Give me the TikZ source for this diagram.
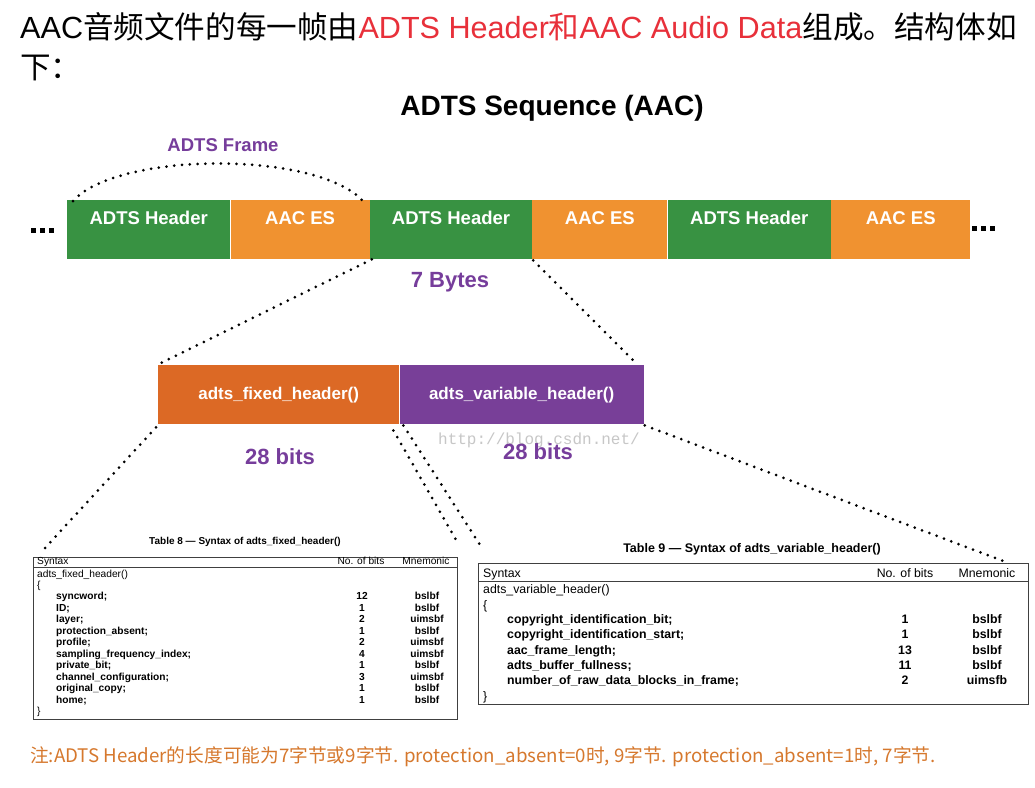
\documentclass[tikz,border=0pt]{standalone}
\usepackage{fontspec}
\setmainfont{Liberation Sans}
\newfontfamily\cjk{Noto Sans CJK SC}
\newfontfamily\wmono{Liberation Mono}
\usetikzlibrary{calc}
\definecolor{segG}{HTML}{389242}
\definecolor{segO}{HTML}{F09230}
\definecolor{fixc}{HTML}{DC6925}
\definecolor{varc}{HTML}{783F98}
\definecolor{purt}{HTML}{763D9B}
\definecolor{redt}{HTML}{E8303A}
\definecolor{notec}{HTML}{D6782D}
\begin{document}
\begin{tikzpicture}[x=1pt,y=-1pt,
  seg/.style={anchor=north west, inner sep=0, minimum height=59pt, text=white,
    font=\bfseries\fontsize{18.5}{18.5}\selectfont, text height=13pt, text depth=24pt},
  hbox/.style={anchor=north west, inner sep=0, minimum height=59pt, text=white,
    font=\bfseries\fontsize{17}{17}\selectfont},
  ptxt/.style={text=purt, inner sep=0, font=\bfseries\fontsize{22}{22}\selectfont},
  dotline/.style={line width=3pt, dash pattern=on 0pt off 7.8pt, line cap=round},
  dotsq/.style={inner sep=0},
  tbox/.style={draw=black!75, line width=0.8pt, anchor=north west, inner sep=0},
  tline/.style={draw=black!75, line width=0.8pt},
  ca/.style={inner sep=0, font=\fontsize{10.2}{10.2}\selectfont, text height=7.4pt, text depth=2pt},
  cab/.style={ca, font=\bfseries\fontsize{10.2}{10.2}\selectfont},
  cb/.style={inner sep=0, font=\fontsize{12.3}{12.3}\selectfont, text height=9pt, text depth=2.6pt},
  cbb/.style={cb, font=\bfseries\fontsize{12.3}{12.3}\selectfont}
]
\useasboundingbox (0,0) rectangle (1035,787);
\fill[white] (0,0) rectangle (1035,787);

% intro text
\node[anchor=base west, inner sep=0, font=\fontsize{30.6}{36}\selectfont] (intro1) at (20,38)
  {AAC{\cjk 音频文件的每一帧由}\textcolor{redt}{ADTS Header{\cjk 和}AAC Audio Data}{\cjk 组成。结构体如}};
\node[anchor=base west, inner sep=0, font=\fontsize{30.6}{36}\selectfont] (intro2) at (20,78) {{\cjk 下：}};

% title
\node[inner sep=0, font=\bfseries\fontsize{28}{28}\selectfont] (title) at (552,108) {ADTS Sequence (AAC)};

% ADTS sequence bar
\node[seg, fill=segG, minimum width=163pt] (s1) at (67,200) {ADTS Header};
\node[seg, fill=segO, minimum width=139pt] (s2) at (s1.north east) {AAC ES};
\node[seg, fill=segG, minimum width=162pt] (s3) at (s2.north east) {ADTS Header};
\node[seg, fill=segO, minimum width=135pt] (s4) at (s3.north east) {AAC ES};
\node[seg, fill=segG, minimum width=163pt] (s5) at (s4.north east) {ADTS Header};
\node[seg, fill=segO, minimum width=139pt] (s6) at (s5.north east) {AAC ES};

\node[dotsq] (dl) at (42.5,230) {\rule{5pt}{5pt}\hspace{4pt}\rule{5pt}{5pt}\hspace{4pt}\rule{5pt}{5pt}};
\node[dotsq] (dr) at (983,228) {\rule{5pt}{5pt}\hspace{4pt}\rule{5pt}{5pt}\hspace{4pt}\rule{5pt}{5pt}};

\node[ptxt, font=\bfseries\fontsize{18.5}{18.5}\selectfont] (frame) at (223,145) {ADTS Frame};
\node[ptxt] (bytes) at (450,282) {7 Bytes};

\draw[dotline] ($(s1.north west)+(6,1)$) .. controls +(45,-50) and +(-45,-50) .. ($(s2.north east)+(-7,1)$);

% header split
\node[hbox, fill=fixc, minimum width=241pt] (fx) at (158,365) {adts\_fixed\_header()};
\node[hbox, fill=varc, minimum width=244pt] (vr) at (fx.north east) {adts\_variable\_header()};

\draw[dotline] ($(s3.south west)+(2,0)$) -- ($(fx.north west)+(3,-2)$);
\draw[dotline] ($(s3.south east)+(1,1)$) -- ($(vr.north east)+(-11,-5)$);

\node[inner sep=0, font=\wmono\fontsize{16}{16}\selectfont, text=black!22] (wm) at (539,440) {http://blog.csdn.net/};

\node[ptxt] (b1) at (280,457) {28 bits};
\node[ptxt] (b2) at (538,452) {28 bits};

% table 8
\node[tbox, minimum width=424pt, minimum height=162pt] (t8) at (33,557) {};
\node[inner sep=0, font=\bfseries\fontsize{10}{10}\selectfont] (t8t) at (245,542) {Table 8 — Syntax of adts\_fixed\_header()};
\draw[tline] ($(t8.north west)+(0,10)$) -- ($(t8.north east)+(0,10)$);
\node[ca, anchor=west] (t8h1) at (37,561.5) {Syntax};
\node[ca] (t8h2) at (361,561.5) {No. of bits};
\node[ca] (t8h3) at (426,561.5) {Mnemonic};
\node[ca, anchor=west] (t8f) at (37,575) {adts\_fixed\_header()};
\node[ca, anchor=west] (t8o) at (37,586) {\{};
\node[ca, anchor=west] (t8c) at (37,712) {\}};
\foreach \nm/\bt/\mn [count=\i] in {syncword;/12/bslbf, ID;/1/bslbf, layer;/2/uimsbf,
  protection\_absent;/1/bslbf, profile;/2/uimsbf, sampling\_frequency\_index;/4/uimsbf,
  private\_bit;/1/bslbf, channel\_configuration;/3/uimsbf, original\_copy;/1/bslbf, home;/1/bslbf}{
  \node[cab, anchor=west] (t8n\i) at (56,{585.5+11.5*\i}) {\nm};
  \node[cab] (t8b\i) at (362,{585.5+11.5*\i}) {\bt};
  \node[cab] (t8m\i) at (427,{585.5+11.5*\i}) {\mn};
}

% table 9
\node[tbox, minimum width=550pt, minimum height=141pt] (t9) at (478,563) {};
\node[inner sep=0, font=\bfseries\fontsize{12.5}{12.5}\selectfont] (t9t) at (752,549) {Table 9 — Syntax of adts\_variable\_header()};
\draw[tline] ($(t9.north west)+(0,18)$) -- ($(t9.north east)+(0,18)$);
\node[cb, anchor=west] (t9h1) at (483,574) {Syntax};
\node[cb] (t9h2) at (905,574) {No. of bits};
\node[cb] (t9h3) at (987,574) {Mnemonic};
\node[cb, anchor=west] (t9f) at (483,590.5) {adts\_variable\_header()};
\node[cb, anchor=west] (t9o) at (483,606) {\{};
\node[cb, anchor=west] (t9c) at (483,697) {\}};
\foreach \nm/\bt/\mn [count=\i] in {copyright\_identification\_bit;/1/bslbf,
  copyright\_identification\_start;/1/bslbf, aac\_frame\_length;/13/bslbf,
  adts\_buffer\_fullness;/11/bslbf, number\_of\_raw\_data\_blocks\_in\_frame;/2/uimsfb}{
  \node[cbb, anchor=west] (t9n\i) at (507,{605.5+15.1*\i}) {\nm};
  \node[cbb] (t9b\i) at (905,{605.5+15.1*\i}) {\bt};
  \node[cbb] (t9m\i) at (987,{605.5+15.1*\i}) {\mn};
}

% connectors to tables
\draw[dotline] ($(fx.south west)+(-2,3)$) -- ($(t8.north west)+(12,-9)$);
\draw[dotline] ($(fx.south east)+(-6,6)$) -- ($(t8.north east)+(0,-14)$);
\draw[dotline] ($(fx.south east)+(4,1)$) -- ($(t9.north west)+(4,-15)$);
\draw[dotline] ($(vr.south east)+(1,1)$) -- ($(t9.north east)+(-23,-1)$);

% note
\node[anchor=west, inner sep=0, font=\cjk\fontsize{18.7}{18.7}\selectfont, text=notec] (note) at (30,757)
  {注:ADTS Header的长度可能为7字节或9字节. protection\_absent=0时, 9字节. protection\_absent=1时, 7字节.};
\end{tikzpicture}
\end{document}
